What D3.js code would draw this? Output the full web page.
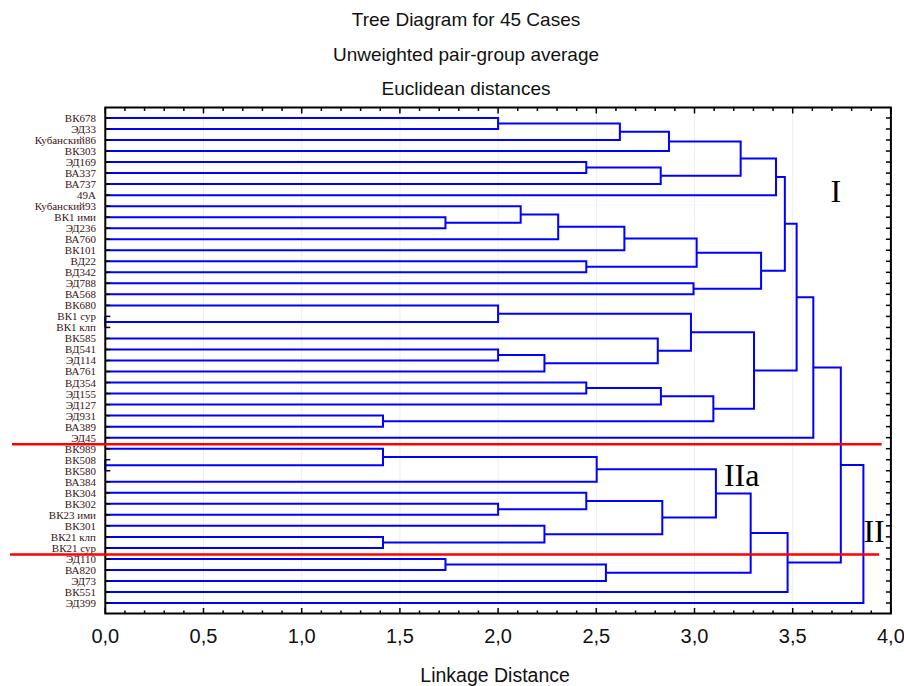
<!DOCTYPE html>
<html>
<head>
<meta charset="utf-8">
<script src="https://cdn.jsdelivr.net/npm/d3@7"></script>
<style>
body { margin: 0; background: #fff; }
svg { display: block; }
</style>
</head>
<body>
<svg width="904" height="686"></svg>
<script>
// DATA
var leaves = ["ВК678", "ЭД33", "Кубанский86", "ВК303", "ЭД169", "ВА337", "ВА737", "49А",
    "Кубанский93", "ВК1 ими", "ЭД236", "ВА760", "ВК101", "ВД22", "ВД342", "ЭД788", "ВА568",
    "ВК680", "ВК1 сур", "ВК1 клп", "ВК585", "ВД541", "ЭД114", "ВА761", "ВД354", "ЭД155",
    "ЭД127", "ЭД931", "ВА389", "ЭД45", "ВК989", "ВК508", "ВК580", "ВА384", "ВК304", "ВК302",
    "ВК23 ими", "ВК301", "ВК21 клп", "ВК21 сур", "ЭД110", "ВА820", "ЭД73", "ВК551", "ЭД399"];

// merges: [child a, child b, linkage distance]; ids < 45 are leaves, merge k gets id 45 + k
var merges = [
    [18, 19, 0],      // 45
    [31, 32, 0],      // 46
    [27, 28, 1.414],  // 47
    [30, 46, 1.414],  // 48
    [38, 39, 1.414],  // 49
    [9, 10, 1.732],   // 50
    [40, 41, 1.732],  // 51
    [0, 1, 2.0],      // 52
    [17, 45, 2.0],    // 53
    [21, 22, 2.0],    // 54
    [35, 36, 2.0],    // 55
    [8, 50, 2.115],   // 56
    [54, 23, 2.236],  // 57
    [37, 49, 2.236],  // 58
    [56, 11, 2.306],  // 59
    [4, 5, 2.449],    // 60
    [13, 14, 2.449],  // 61
    [24, 25, 2.449],  // 62
    [34, 55, 2.449],  // 63
    [48, 33, 2.502],  // 64
    [51, 42, 2.549],  // 65
    [52, 2, 2.62],    // 66
    [59, 12, 2.643],  // 67
    [20, 57, 2.813],  // 68
    [60, 6, 2.828],   // 69
    [62, 26, 2.829],  // 70
    [63, 58, 2.836],  // 71
    [66, 3, 2.87],    // 72
    [53, 68, 2.982],  // 73
    [15, 16, 2.995],  // 74
    [67, 61, 3.011],  // 75
    [70, 47, 3.096],  // 76
    [64, 71, 3.109],  // 77
    [72, 69, 3.235],  // 78
    [77, 65, 3.286],  // 79
    [73, 76, 3.303],  // 80
    [75, 74, 3.339],  // 81
    [78, 7, 3.415],   // 82
    [82, 81, 3.46],   // 83
    [79, 43, 3.474],  // 84
    [83, 80, 3.52],   // 85
    [85, 29, 3.605],  // 86
    [86, 84, 3.745],  // 87
    [87, 44, 3.86]    // 88
];

var xTickValues = [0, 0.5, 1, 1.5, 2, 2.5, 3, 3.5, 4];
var titleLines = ["Tree Diagram for 45 Cases", "Unweighted pair-group average", "Euclidean distances"];
var xTitle = "Linkage Distance";

// red cut lines drawn between two leaf rows
var cutLines = [
    { after: 29, from: -0.475, to: 3.953 },
    { after: 39, from: -0.485, to: 3.94 }
];
// group labels: distance position and (fractional) row of baseline
var groupLabels = [
    { text: "I", d: 3.693, row: 7.64 },
    { text: "IIa", d: 3.15, row: 33.35 },
    { text: "II", d: 3.86, row: 38.49 }
];

// SVG PARAMETERS
var svg = d3.select("svg");
var plotLeft = 105.3, plotRight = 890.9, plotTop = 107.5, plotBottom = 613.5;

var x = d3.scaleLinear().domain([0, 4]).range([plotLeft, plotRight]);
var y = d3.scalePoint()
    .domain(d3.range(leaves.length))
    .range([plotTop, plotBottom])
    .padding(0.95);
var rowY = function(r) {
    var i = Math.floor(r);
    return y(i) + (r - i) * y.step();
};
var fmt = function(v) { return d3.format(".1f")(v).replace(".", ","); };

// NODE POSITIONS
var nodeY = leaves.map(function(d, i) { return y(i); });
var nodeH = leaves.map(function() { return 0; });
merges.forEach(function(m) {
    nodeY.push((nodeY[m[0]] + nodeY[m[1]]) / 2);
    nodeH.push(m[2]);
});

// TITLES
svg.append("g").selectAll("text")
    .data(titleLines)
    .enter().append("text")
    .attr("x", 466)
    .attr("y", function(d, i) { return 26 + i * 34.5; })
    .attr("text-anchor", "middle")
    .style("font-family", "'Liberation Sans', Arial, sans-serif")
    .style("font-size", "19px")
    .style("fill", "#111")
    .text(function(d) { return d; });

// GRID
svg.append("g").selectAll("line")
    .data(xTickValues.slice(1, -1))
    .enter().append("line")
    .attr("x1", function(d) { return x(d); })
    .attr("x2", function(d) { return x(d); })
    .attr("y1", plotTop)
    .attr("y2", plotBottom)
    .style("stroke", "#ededf5")
    .style("stroke-width", 1);

// DENDROGRAM
svg.append("g").selectAll("path")
    .data(merges)
    .enter().append("path")
    .attr("d", function(m, k) {
        var h = x(nodeH[45 + k]);
        return "M" + x(nodeH[m[0]]) + "," + nodeY[m[0]] +
            "H" + h + "V" + nodeY[m[1]] + "H" + x(nodeH[m[1]]);
    })
    .style("fill", "none")
    .style("stroke", "#0000ff")
    .style("stroke-width", 2);

// FRAME
svg.append("rect")
    .attr("x", plotLeft).attr("y", plotTop)
    .attr("width", plotRight - plotLeft).attr("height", plotBottom - plotTop)
    .style("fill", "none")
    .style("stroke", "#000")
    .style("stroke-width", 2);

// ROW TICKS (left and right, inward)
var rowTicks = svg.append("g").style("stroke", "#000").style("stroke-width", 1.5);
rowTicks.selectAll(".lt")
    .data(leaves)
    .enter().append("line")
    .attr("class", "lt")
    .attr("x1", plotLeft).attr("x2", plotLeft + 5)
    .attr("y1", function(d, i) { return y(i); })
    .attr("y2", function(d, i) { return y(i); });
rowTicks.selectAll(".rt")
    .data(leaves)
    .enter().append("line")
    .attr("class", "rt")
    .attr("x1", plotRight - 5).attr("x2", plotRight)
    .attr("y1", function(d, i) { return y(i); })
    .attr("y2", function(d, i) { return y(i); });

// DISTANCE TICKS (top and bottom, inward)
var minor = x.ticks(40);
var isMajor = function(d) { return Math.abs(d * 2 - Math.round(d * 2)) < 1e-6; };
var colTicks = svg.append("g").style("stroke", "#000").style("stroke-width", 1.5);
colTicks.selectAll(".tt")
    .data(minor)
    .enter().append("line")
    .attr("class", "tt")
    .attr("x1", function(d) { return x(d); })
    .attr("x2", function(d) { return x(d); })
    .attr("y1", plotTop)
    .attr("y2", function(d) { return plotTop + (isMajor(d) ? 6 : 3.5); });
colTicks.selectAll(".bt")
    .data(minor)
    .enter().append("line")
    .attr("class", "bt")
    .attr("x1", function(d) { return x(d); })
    .attr("x2", function(d) { return x(d); })
    .attr("y1", plotBottom)
    .attr("y2", function(d) { return plotBottom - (isMajor(d) ? 5.5 : 3); });

// TICK LABELS
svg.append("g").selectAll("text")
    .data(xTickValues)
    .enter().append("text")
    .attr("x", function(d) { return x(d); })
    .attr("y", 642.5)
    .attr("text-anchor", "middle")
    .style("font-family", "'Liberation Sans', Arial, sans-serif")
    .style("font-size", "20px")
    .style("fill", "#111")
    .text(fmt);

svg.append("text")
    .attr("x", (plotLeft + plotRight) / 2 - 3)
    .attr("y", 682)
    .attr("text-anchor", "middle")
    .style("font-family", "'Liberation Sans', Arial, sans-serif")
    .style("font-size", "19.5px")
    .style("fill", "#111")
    .text(xTitle);

// LEAF LABELS
svg.append("g").selectAll("text")
    .data(leaves)
    .enter().append("text")
    .attr("x", 96)
    .attr("y", function(d, i) { return y(i); })
    .attr("dy", "0.36em")
    .attr("text-anchor", "end")
    .style("font-family", "'Liberation Serif', 'Times New Roman', serif")
    .style("font-size", "11px")
    .style("fill", "#3a1414")
    .text(function(d) { return d; });

// CUT LINES
svg.append("g").selectAll("line")
    .data(cutLines)
    .enter().append("line")
    .attr("x1", function(d) { return x(d.from); })
    .attr("x2", function(d) { return x(d.to); })
    .attr("y1", function(d) { return (y(d.after) + y(d.after + 1)) / 2 + 1; })
    .attr("y2", function(d) { return (y(d.after) + y(d.after + 1)) / 2 + 1; })
    .style("stroke", "#ff0000")
    .style("stroke-width", 2.5);

// GROUP LABELS
svg.append("g").selectAll("text")
    .data(groupLabels)
    .enter().append("text")
    .attr("x", function(d) { return x(d.d); })
    .attr("y", function(d) { return rowY(d.row); })
    .style("font-family", "'Liberation Serif', 'Times New Roman', serif")
    .style("font-size", "32px")
    .style("fill", "#000")
    .text(function(d) { return d.text; });
</script>
</body>
</html>
